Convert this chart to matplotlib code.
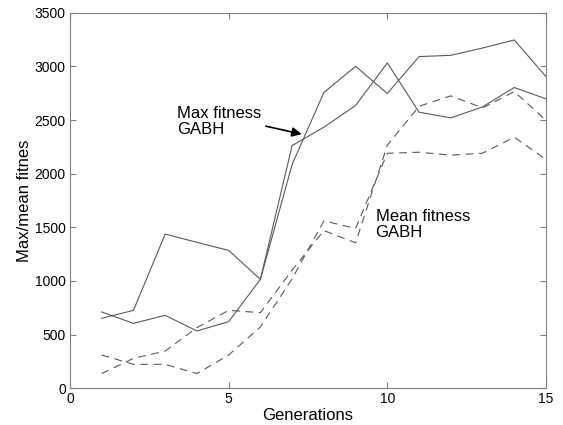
import matplotlib
matplotlib.use('Agg')
import matplotlib.pyplot as plt

plt.rcParams['font.family'] = ['Liberation Sans', 'DejaVu Sans']

# generations and fitness values
generations = list(range(1, 16))
max_fit_a = [711, 605, 680, 534, 621, 1015, 2262, 2433, 2635, 3032, 2573, 2520, 2622, 2803, 2697]
max_fit_b = [652, 726, 1437, 1360, 1285, 1015, 2086, 2756, 3001, 2747, 3091, 3103, 3171, 3246, 2905]
mean_fit_a = [310, 223, 223, 137, 310, 571, 1020, 1560, 1490, 2190, 2200, 2172, 2191, 2340, 2132]
mean_fit_b = [137, 279, 347, 565, 726, 705, 1100, 1470, 1356, 2265, 2628, 2725, 2613, 2765, 2498]

x_ticks = [0, 5, 10, 15]
y_ticks = [0, 500, 1000, 1500, 2000, 2500, 3000, 3500]

fig = plt.figure(figsize=(5.63, 4.25), dpi=100)
ax = fig.add_axes([0.1243, 0.0864, 0.8455, 0.8837])

line_col = '#5a5a5a'
ax.plot(generations, max_fit_a, color=line_col, linewidth=0.8)
ax.plot(generations, max_fit_b, color=line_col, linewidth=0.8)
ax.plot(generations, mean_fit_a, color=line_col, linewidth=0.8, linestyle=(0, (7, 5)))
ax.plot(generations, mean_fit_b, color=line_col, linewidth=0.8, linestyle=(0, (7, 5)))

ax.set_xlim(0, 15)
ax.set_ylim(0, 3500)
ax.set_xticks(x_ticks)
ax.set_yticks(y_ticks)
ax.tick_params(direction='in', top=True, right=True, labelsize=10,
               color='#808080', length=4, width=0.8, pad=3)
for sp in ax.spines.values():
    sp.set_color('#808080')
    sp.set_linewidth(0.8)

ax.set_xlabel('Generations', fontsize=12, labelpad=1)
ax.set_ylabel('Max/mean fitnes', fontsize=12, labelpad=2)

# annotations
ax.text(3.38, 2629, 'Max fitness\nGABH', fontsize=12, va='top', ha='left', linespacing=1.05)
ax.annotate('', xy=(7.3, 2368), xytext=(6.17, 2443),
            arrowprops=dict(arrowstyle='-|>', color='black', lw=1.2,
                            mutation_scale=14, shrinkA=0, shrinkB=0))
ax.text(9.63, 1667, 'Mean fitness\nGABH', fontsize=12, va='top', ha='left', linespacing=1.05)

plt.savefig('out.png', dpi=100)
plt.close()
